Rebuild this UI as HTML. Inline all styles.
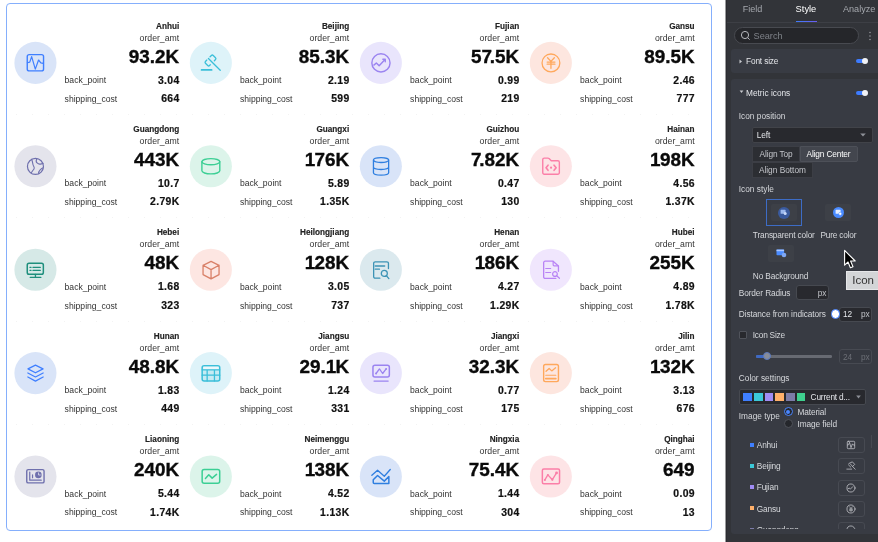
<!DOCTYPE html>
<html lang="en">
<head>
<meta charset="utf-8">
<title>Metric icons – style panel</title>
<style>
*{box-sizing:border-box;margin:0;padding:0}
html,body{width:878px;height:542px;overflow:hidden;background:#fff}
body{position:relative;font-family:"Liberation Sans",sans-serif}
.card{position:absolute;left:6px;top:3px;width:706px;height:528px;border:1px solid #85affc;border-radius:4px;background:#fff}
.sep{position:absolute;left:16px;width:680px;height:1px;background:repeating-linear-gradient(90deg,#f3f3f3 0 1px,transparent 1px 16px)}
.icons{position:absolute;left:0;top:0}
.t{position:absolute;white-space:nowrap;color:#1c1c1c}
.nm{-webkit-text-stroke:0.15px #222;font-weight:700;font-size:8.2px;line-height:10px;color:#222}
.od{font-size:8.7px;line-height:10px;color:#333}
.bg{font-weight:700;font-size:18.9px;line-height:20px;color:#0a0a0a;-webkit-text-stroke:0.35px #0a0a0a}
.n7{letter-spacing:-2.2px}
.n1{letter-spacing:-0.6px}
.lb{font-size:8.6px;line-height:10px;color:#333}
.vl{-webkit-text-stroke:0.2px #111;font-weight:700;font-size:10.4px;line-height:12px;color:#111;letter-spacing:0.35px;margin-right:-0.35px}
/* panel */
.panel{position:absolute;left:726px;top:0;width:152px;height:542px;background:#323439;box-shadow:-1px 0 0 #9a9b9d, inset 1px 0 0 #2b2c31}
.tabs{position:absolute;left:1px;top:0;width:151px;height:23px;border-bottom:1px solid #3d3f45}
.srch{display:none}
.uline{position:absolute;left:69.5px;top:20.6px;width:21px;height:1.4px;background:linear-gradient(90deg,#3e7bfa,#6a5cf0)}
.sbox{position:absolute;left:8px;top:27px;width:124.6px;height:17px;border-radius:9px;background:#25262a;border:1px solid #484a50}
.sec{position:absolute;left:5px;width:147px;background:#383b43;border-radius:3px 0 0 3px}
.p{position:absolute;white-space:nowrap;line-height:12px;font-family:"Liberation Sans",sans-serif}
.tog{position:absolute;width:11px;height:4.4px;border-radius:2.2px;background:#3d7bff}
.tog i{position:absolute;right:-1.2px;top:-0.7px;width:5.8px;height:5.8px;border-radius:50%;background:#f0f1f5}
.box{position:absolute;background:#28292e;border:1px solid #464950;border-radius:2px}
.btn{position:absolute;background:#2c2e33;border:1px solid #3c3e45}
.btn.on{background:#43464e;border-color:#4d5058;border-radius:0 2px 2px 0}
.thumb{position:absolute;width:26px;height:17.2px;border-radius:2px;background:#3d4047}
.sq{position:absolute;left:18.6px;width:4.1px;height:4.1px}
.ib{position:absolute;left:107.3px;width:26.4px;height:16px;border:1px solid #474a52;border-radius:3px}
.ib svg{position:absolute;left:6.2px;top:1px}
.lp{}
</style>
</head>
<body>
<div class="card"></div>
<div class="sep" style="top:114px"></div>
<div class="sep" style="top:217.4px"></div>
<div class="sep" style="top:320.8px"></div>
<div class="sep" style="top:424.2px"></div>
<svg class="icons" width="720" height="542" viewBox="0 0 720 542" fill="none" stroke="currentColor" stroke-linecap="round" stroke-linejoin="round">
<g transform="translate(35.45,62.90)" color="#3f7fff"><circle r="21.05" fill="#d9e4f8" stroke="none"/><rect x="-8.2" y="-8.3" width="16.3" height="16.3" rx="2" stroke-width="1.4"/><polyline points="-8,-0.1 -5.7,-0.8 -3.8,-6.3 -0.15,6.2 3.1,-2.9 5.4,-0.1 7.9,0.4" stroke-width="1.2"/></g>
<g transform="translate(210.85,62.90)" color="#3bbfd9"><circle r="21.05" fill="#def3f9" stroke="none"/><g transform="translate(-0.37,-2.4) rotate(-45)" stroke-width="1.3"><path d="M-2.3,-2.9H-4.2a1.3,1.3 0 0 0 -1.3,1.3V1.6a1.3,1.3 0 0 0 1.3,1.3H-3.2"/><path d="M2.3,-2.9H4.2a1.3,1.3 0 0 1 1.3,1.3V1.6a1.3,1.3 0 0 1 -1.3,1.3H2.6"/><line x1="0" y1="-2.9" x2="0" y2="13.8"/></g><line x1="-9.3" y1="7" x2="0.8" y2="7" stroke-width="1.7"/></g>
<g transform="translate(380.85,62.90)" color="#9b84f0"><circle r="21.05" fill="#e9e5fc" stroke="none"/><circle cx="0.1" cy="0" r="9.1" stroke-width="1.4"/><polyline points="-7,2.2 -4.5,0.1 -1.7,2.9 3.9,-3.1" stroke-width="1.4"/><polyline points="2,-3.6 4.4,-3.6 4.4,-1.2" stroke-width="1.4"/></g>
<g transform="translate(550.85,62.90)" color="#ffa85c"><circle r="21.05" fill="#fde6df" stroke="none"/><circle cx="0.1" cy="0" r="8.9" stroke-width="1.3"/><path d="M-3.3,-5.2L0.1,-1.5L3.5,-5.2M0.1,-1.5V5.4M-3.7,-0.8H4.1M-3.7,1.3H4.1" stroke-width="1.3"/></g>
<g transform="translate(35.45,166.30)" color="#6f70ad"><circle r="21.05" fill="#e4e4ec" stroke="none"/><circle cx="0" cy="0.15" r="8" stroke-width="1.2"/><path d="M-3.8,-7C-3,-5 -2.8,-3.5 -2.5,-1.8S-0.6,1 -1.35,2.35S-3,4.5 -4.3,6.8M1.4,-7.6C0.3,-5.6 0.5,-4.4 1.6,-3.4S3.3,-2.1 4.4,-2.2S6.6,-2.7 7.6,-2.7M7.9,1.5C6.5,1.9 5.6,2.6 4.7,3.5S2.8,5.6 3.3,7.2" stroke-width="1.1"/></g>
<g transform="translate(210.85,166.30)" color="#3ccf95"><circle r="21.05" fill="#dcf4ea" stroke="none"/><ellipse cx="0" cy="-4.6" rx="8.95" ry="3.1" stroke-width="1.4"/><path d="M-8.95,-4.6V4.5A8.95,3.1 0 0 0 8.95,4.5V-4.6" stroke-width="1.4"/></g>
<g transform="translate(380.85,166.30)" color="#2f7fe0"><circle r="21.05" fill="#d9e4f8" stroke="none"/><ellipse cx="0.2" cy="-6.2" rx="7.6" ry="2.4" stroke-width="1.3"/><path d="M-7.4,-6.2V6.5A7.6,2.4 0 0 0 7.8,6.5V-6.2M-7.4,0.8A7.6,2.4 0 0 0 7.8,0.8" stroke-width="1.3"/></g>
<g transform="translate(550.85,166.30)" color="#fb7fa8"><circle r="21.05" fill="#fde4e6" stroke="none"/><path d="M-8.1,-6.7a1.5,1.5 0 0 1 1.5,-1.5H-2.9a1.5,1.5 0 0 1 1.1,0.5L0.4,-5.5H7a1.5,1.5 0 0 1 1.5,1.5V6.4a1.5,1.5 0 0 1 -1.5,1.5H-6.6a1.5,1.5 0 0 1 -1.5,-1.5Z" stroke-width="1.4"/><path d="M-2.8,-1.15L-4.8,1.4L-2.8,4M3.2,-1.15L5.3,1.4L3.2,4" stroke-width="1.6"/><circle cx="0.2" cy="1.4" r="1.1" fill="currentColor" stroke="none"/></g>
<g transform="translate(35.45,269.70)" color="#1f8f7d"><circle r="21.05" fill="#d6e9e7" stroke="none"/><rect x="-8.2" y="-6.5" width="16.1" height="11.1" rx="1.8" stroke-width="1.5"/><path d="M0,4.8V7.5M-5.2,7.76H5.4" stroke-width="1.3"/><path d="M-5.5,-2.4H-4.4M-5.5,0.66H-4.4M-2.5,-2.4H4.9M-2.5,0.66H4.9" stroke-width="1.3"/></g>
<g transform="translate(210.85,269.70)" color="#d98068"><circle r="21.05" fill="#fde6e2" stroke="none"/><path d="M0.2,-8.4L8.2,-4.4V4.9L0.2,9.2L-7.8,4.9V-4.4ZM-7.8,-4.4L0.2,-0.1L8.2,-4.4M0.2,-0.1V9.2" stroke-width="1.3"/></g>
<g transform="translate(380.85,269.70)" color="#3d93b5"><circle r="21.05" fill="#dbe9ee" stroke="none"/><path d="M-1,8.5H-5.7a1.5,1.5 0 0 1 -1.5,-1.5V-6.4a1.5,1.5 0 0 1 1.5,-1.5H6.1a1.5,1.5 0 0 1 1.5,1.5V-1.2" stroke-width="1.3"/><path d="M-5.6,-3.76H3.8" stroke-width="1.5"/><path d="M-5.6,-0.5H-1.4" stroke-width="1.3"/><circle cx="3.45" cy="3.7" r="3" stroke-width="1.3"/><path d="M5.7,6.2L8,8.9" stroke-width="1.3"/></g>
<g transform="translate(550.85,269.70)" color="#b984f5"><circle r="21.05" fill="#f0e6fd" stroke="none"/><path d="M5,8.75H-5.7a1.5,1.5 0 0 1 -1.5,-1.5V-7.05a1.5,1.5 0 0 1 1.5,-1.5H2.2L7.6,-3.6V1.6" stroke-width="1.3"/><path d="M2.3,-8.3V-4.9a1,1 0 0 0 1,1H7.3" stroke-width="1.2"/><path d="M-5.1,-1.2H-0.2M-5.1,2.8H-0.2" stroke-width="1.2"/><circle cx="4.1" cy="4.35" r="2.35" stroke-width="1.2"/><path d="M5.8,6L8.6,8.6" stroke-width="1.2"/></g>
<g transform="translate(35.45,373.10)" color="#3f7fff"><circle r="21.05" fill="#d9e4f8" stroke="none"/><path d="M0,-8L7.6,-4.2L0,-0.3L-7.5,-4.2Z" stroke-width="1.2"/><path d="M-7.6,-0.1L0,3.9L7.7,-0.1M-7.6,3.9L0,8L7.7,3.9" stroke-width="1.2"/></g>
<g transform="translate(210.85,373.10)" color="#3bbfd9"><circle r="21.05" fill="#def3f9" stroke="none"/><rect x="-8.7" y="-7.4" width="17.6" height="15.2" rx="2" stroke-width="1.5" fill="#c6ebf3"/><rect x="-7.6" y="-6.4" width="15.4" height="2.4" fill="#ecf8fb" stroke="none"/><path d="M-8.7,-3.3H8.9M-8.7,2.1H8.9M-3.7,-3.3V7.8M3.6,-3.3V7.8" stroke-width="1.3"/></g>
<g transform="translate(380.85,373.10)" color="#9b84f0"><circle r="21.05" fill="#e9e5fc" stroke="none"/><rect x="-7.9" y="-7.8" width="16.4" height="11.7" rx="2" stroke-width="1.5"/><path d="M-6.8,8H7.3" stroke-width="1.3"/><polyline points="-4.8,0.4 -1.4,-4.2 1.8,0.4 5.3,-4.2" stroke-width="1.3"/><circle cx="-4.8" cy="0.4" r="0.9" fill="currentColor" stroke="none"/><circle cx="5.3" cy="-4.2" r="0.9" fill="currentColor" stroke="none"/></g>
<g transform="translate(550.85,373.10)" color="#ffa85c"><circle r="21.05" fill="#fde6df" stroke="none"/><rect x="-7.2" y="-8.6" width="14.8" height="17.1" rx="1.8" stroke-width="1.4"/><polyline points="-4.8,-1.9 -1.7,-4.65 0.9,-2.2 4.75,-5.3" stroke-width="1.3"/><path d="M-5.1,2.1H5" stroke-width="1.1"/><path d="M-5.1,5.5H5" stroke-width="1.7"/></g>
<g transform="translate(35.45,476.50)" color="#6f70ad"><circle r="21.05" fill="#e4e4ec" stroke="none"/><rect x="-8.7" y="-6.9" width="17.3" height="13.3" rx="1.5" stroke-width="1.4"/><path d="M-5.7,-4.4V3.7H5.8" stroke-width="1.2"/><path d="M-2.9,-1.6V1.15" stroke-width="1.2"/><circle cx="2.9" cy="-1.6" r="3.3" fill="currentColor" stroke="none"/><path d="M3.1,-3.6V-1.5H4.9" stroke="#d5d5e6" stroke-width="0.9"/></g>
<g transform="translate(210.85,476.50)" color="#3ccf95"><circle r="21.05" fill="#dcf4ea" stroke="none"/><rect x="-8.7" y="-7" width="17.55" height="13.65" rx="2" stroke-width="1.5"/><polyline points="-5.4,1.9 -2.1,-1.8 1.3,1.6 5.7,-2.1" stroke-width="1.5"/></g>
<g transform="translate(380.85,476.50)" color="#2f7fe0"><circle r="21.05" fill="#d9e4f8" stroke="none"/><polyline points="-9,-1.15 -3.3,-6.2 3.45,-0.2 9.4,-7" stroke-width="1.3"/><path d="M-7.6,3.3L-3.3,-1L3.45,4.6L8,0V6.9H-6.6a1,1 0 0 1 -1,-1Z" stroke-width="1.5"/></g>
<g transform="translate(550.85,476.50)" color="#fb7fa8"><circle r="21.05" fill="#fde4e6" stroke="none"/><rect x="-8.5" y="-7.5" width="17.2" height="14.8" rx="1.5" stroke-width="1.5"/><polyline points="-6,3.45 -3,-1.6 1.5,3.2 5.7,-3.6" stroke-width="1.3"/><circle cx="-6" cy="3.45" r="1" fill="currentColor" stroke="none"/><circle cx="-3" cy="-1.6" r="1" fill="currentColor" stroke="none"/><circle cx="1.5" cy="3.2" r="1.1" fill="currentColor" stroke="none"/><circle cx="5.7" cy="-3.6" r="1.4" fill="currentColor" stroke="none"/></g>
</svg>
<div class="t nm" style="right:698.80px;top:21.66px">Anhui</div>
<div class="t od" style="right:698.80px;top:32.69px">order_amt</div>
<div class="t bg" style="right:698.80px;top:46.65px">93.2K</div>
<div class="t lb" style="left:64.60px;top:75.02px">back_point</div>
<div class="t vl" style="right:698.80px;top:74.50px">3.04</div>
<div class="t lb" style="left:64.60px;top:93.77px">shipping_cost</div>
<div class="t vl" style="right:698.80px;top:92.95px">664</div>
<div class="t nm" style="right:528.80px;top:21.66px">Beijing</div>
<div class="t od" style="right:528.80px;top:32.69px">order_amt</div>
<div class="t bg" style="right:528.80px;top:46.65px">85.3K</div>
<div class="t lb" style="left:239.90px;top:75.02px">back_point</div>
<div class="t vl" style="right:528.80px;top:74.50px">2.19</div>
<div class="t lb" style="left:239.90px;top:93.77px">shipping_cost</div>
<div class="t vl" style="right:528.80px;top:92.95px">599</div>
<div class="t nm" style="right:358.80px;top:21.66px">Fujian</div>
<div class="t od" style="right:358.80px;top:32.69px">order_amt</div>
<div class="t bg" style="right:358.80px;top:46.65px">5<span class="n7">7</span>.5K</div>
<div class="t lb" style="left:410.10px;top:75.02px">back_point</div>
<div class="t vl" style="right:358.80px;top:74.50px">0.99</div>
<div class="t lb" style="left:410.10px;top:93.77px">shipping_cost</div>
<div class="t vl" style="right:358.80px;top:92.95px">219</div>
<div class="t nm" style="right:183.40px;top:21.66px">Gansu</div>
<div class="t od" style="right:183.40px;top:32.69px">order_amt</div>
<div class="t bg" style="right:183.40px;top:46.65px">89.5K</div>
<div class="t lb" style="left:580.10px;top:75.02px">back_point</div>
<div class="t vl" style="right:183.40px;top:74.50px">2.46</div>
<div class="t lb" style="left:580.10px;top:93.77px">shipping_cost</div>
<div class="t vl" style="right:183.40px;top:92.95px">777</div>
<div class="t nm" style="right:698.80px;top:125.06px">Guangdong</div>
<div class="t od" style="right:698.80px;top:136.09px">order_amt</div>
<div class="t bg" style="right:698.80px;top:150.05px">443K</div>
<div class="t lb" style="left:64.60px;top:178.42px">back_point</div>
<div class="t vl" style="right:698.80px;top:177.90px">10.7</div>
<div class="t lb" style="left:64.60px;top:197.17px">shipping_cost</div>
<div class="t vl" style="right:698.80px;top:196.35px">2.79K</div>
<div class="t nm" style="right:528.80px;top:125.06px">Guangxi</div>
<div class="t od" style="right:528.80px;top:136.09px">order_amt</div>
<div class="t bg" style="right:528.80px;top:150.05px"><span class="n1">1</span>76K</div>
<div class="t lb" style="left:239.90px;top:178.42px">back_point</div>
<div class="t vl" style="right:528.80px;top:177.90px">5.89</div>
<div class="t lb" style="left:239.90px;top:197.17px">shipping_cost</div>
<div class="t vl" style="right:528.80px;top:196.35px">1.35K</div>
<div class="t nm" style="right:358.80px;top:125.06px">Guizhou</div>
<div class="t od" style="right:358.80px;top:136.09px">order_amt</div>
<div class="t bg" style="right:358.80px;top:150.05px"><span class="n7">7</span>.82K</div>
<div class="t lb" style="left:410.10px;top:178.42px">back_point</div>
<div class="t vl" style="right:358.80px;top:177.90px">0.47</div>
<div class="t lb" style="left:410.10px;top:197.17px">shipping_cost</div>
<div class="t vl" style="right:358.80px;top:196.35px">130</div>
<div class="t nm" style="right:183.40px;top:125.06px">Hainan</div>
<div class="t od" style="right:183.40px;top:136.09px">order_amt</div>
<div class="t bg" style="right:183.40px;top:150.05px"><span class="n1">1</span>98K</div>
<div class="t lb" style="left:580.10px;top:178.42px">back_point</div>
<div class="t vl" style="right:183.40px;top:177.90px">4.56</div>
<div class="t lb" style="left:580.10px;top:197.17px">shipping_cost</div>
<div class="t vl" style="right:183.40px;top:196.35px">1.37K</div>
<div class="t nm" style="right:698.80px;top:228.46px">Hebei</div>
<div class="t od" style="right:698.80px;top:239.49px">order_amt</div>
<div class="t bg" style="right:698.80px;top:253.45px">48K</div>
<div class="t lb" style="left:64.60px;top:281.82px">back_point</div>
<div class="t vl" style="right:698.80px;top:281.30px">1.68</div>
<div class="t lb" style="left:64.60px;top:300.57px">shipping_cost</div>
<div class="t vl" style="right:698.80px;top:299.75px">323</div>
<div class="t nm" style="right:528.80px;top:228.46px">Heilongjiang</div>
<div class="t od" style="right:528.80px;top:239.49px">order_amt</div>
<div class="t bg" style="right:528.80px;top:253.45px"><span class="n1">1</span>28K</div>
<div class="t lb" style="left:239.90px;top:281.82px">back_point</div>
<div class="t vl" style="right:528.80px;top:281.30px">3.05</div>
<div class="t lb" style="left:239.90px;top:300.57px">shipping_cost</div>
<div class="t vl" style="right:528.80px;top:299.75px">737</div>
<div class="t nm" style="right:358.80px;top:228.46px">Henan</div>
<div class="t od" style="right:358.80px;top:239.49px">order_amt</div>
<div class="t bg" style="right:358.80px;top:253.45px"><span class="n1">1</span>86K</div>
<div class="t lb" style="left:410.10px;top:281.82px">back_point</div>
<div class="t vl" style="right:358.80px;top:281.30px">4.27</div>
<div class="t lb" style="left:410.10px;top:300.57px">shipping_cost</div>
<div class="t vl" style="right:358.80px;top:299.75px">1.29K</div>
<div class="t nm" style="right:183.40px;top:228.46px">Hubei</div>
<div class="t od" style="right:183.40px;top:239.49px">order_amt</div>
<div class="t bg" style="right:183.40px;top:253.45px">255K</div>
<div class="t lb" style="left:580.10px;top:281.82px">back_point</div>
<div class="t vl" style="right:183.40px;top:281.30px">4.89</div>
<div class="t lb" style="left:580.10px;top:300.57px">shipping_cost</div>
<div class="t vl" style="right:183.40px;top:299.75px">1.78K</div>
<div class="t nm" style="right:698.80px;top:331.86px">Hunan</div>
<div class="t od" style="right:698.80px;top:342.89px">order_amt</div>
<div class="t bg" style="right:698.80px;top:356.85px">48.8K</div>
<div class="t lb" style="left:64.60px;top:385.22px">back_point</div>
<div class="t vl" style="right:698.80px;top:384.70px">1.83</div>
<div class="t lb" style="left:64.60px;top:403.97px">shipping_cost</div>
<div class="t vl" style="right:698.80px;top:403.15px">449</div>
<div class="t nm" style="right:528.80px;top:331.86px">Jiangsu</div>
<div class="t od" style="right:528.80px;top:342.89px">order_amt</div>
<div class="t bg" style="right:528.80px;top:356.85px">29.<span class="n1">1</span>K</div>
<div class="t lb" style="left:239.90px;top:385.22px">back_point</div>
<div class="t vl" style="right:528.80px;top:384.70px">1.24</div>
<div class="t lb" style="left:239.90px;top:403.97px">shipping_cost</div>
<div class="t vl" style="right:528.80px;top:403.15px">331</div>
<div class="t nm" style="right:358.80px;top:331.86px">Jiangxi</div>
<div class="t od" style="right:358.80px;top:342.89px">order_amt</div>
<div class="t bg" style="right:358.80px;top:356.85px">32.3K</div>
<div class="t lb" style="left:410.10px;top:385.22px">back_point</div>
<div class="t vl" style="right:358.80px;top:384.70px">0.77</div>
<div class="t lb" style="left:410.10px;top:403.97px">shipping_cost</div>
<div class="t vl" style="right:358.80px;top:403.15px">175</div>
<div class="t nm" style="right:183.40px;top:331.86px">Jilin</div>
<div class="t od" style="right:183.40px;top:342.89px">order_amt</div>
<div class="t bg" style="right:183.40px;top:356.85px"><span class="n1">1</span>32K</div>
<div class="t lb" style="left:580.10px;top:385.22px">back_point</div>
<div class="t vl" style="right:183.40px;top:384.70px">3.13</div>
<div class="t lb" style="left:580.10px;top:403.97px">shipping_cost</div>
<div class="t vl" style="right:183.40px;top:403.15px">676</div>
<div class="t nm" style="right:698.80px;top:435.26px">Liaoning</div>
<div class="t od" style="right:698.80px;top:446.29px">order_amt</div>
<div class="t bg" style="right:698.80px;top:460.25px">240K</div>
<div class="t lb" style="left:64.60px;top:488.62px">back_point</div>
<div class="t vl" style="right:698.80px;top:488.10px">5.44</div>
<div class="t lb" style="left:64.60px;top:507.37px">shipping_cost</div>
<div class="t vl" style="right:698.80px;top:506.55px">1.74K</div>
<div class="t nm" style="right:528.80px;top:435.26px">Neimenggu</div>
<div class="t od" style="right:528.80px;top:446.29px">order_amt</div>
<div class="t bg" style="right:528.80px;top:460.25px"><span class="n1">1</span>38K</div>
<div class="t lb" style="left:239.90px;top:488.62px">back_point</div>
<div class="t vl" style="right:528.80px;top:488.10px">4.52</div>
<div class="t lb" style="left:239.90px;top:507.37px">shipping_cost</div>
<div class="t vl" style="right:528.80px;top:506.55px">1.13K</div>
<div class="t nm" style="right:358.80px;top:435.26px">Ningxia</div>
<div class="t od" style="right:358.80px;top:446.29px">order_amt</div>
<div class="t bg" style="right:358.80px;top:460.25px">75.4K</div>
<div class="t lb" style="left:410.10px;top:488.62px">back_point</div>
<div class="t vl" style="right:358.80px;top:488.10px">1.44</div>
<div class="t lb" style="left:410.10px;top:507.37px">shipping_cost</div>
<div class="t vl" style="right:358.80px;top:506.55px">304</div>
<div class="t nm" style="right:183.40px;top:435.26px">Qinghai</div>
<div class="t od" style="right:183.40px;top:446.29px">order_amt</div>
<div class="t bg" style="right:183.40px;top:460.25px">649</div>
<div class="t lb" style="left:580.10px;top:488.62px">back_point</div>
<div class="t vl" style="right:183.40px;top:488.10px">0.09</div>
<div class="t lb" style="left:580.10px;top:507.37px">shipping_cost</div>
<div class="t vl" style="right:183.40px;top:506.55px">13</div>

<div class="panel">
  <div class="tabs"></div>
  <div class="uline"></div>
  <div class="srch"></div>
  <div class="sbox"></div>
  <svg style="position:absolute;left:14px;top:30px" width="11" height="11" viewBox="0 0 11 11" fill="none" stroke="#b6b8bd" stroke-width="1"><circle cx="5" cy="5" r="3.6"/><path d="M7.7,7.7L9.6,9.6"/></svg>
  <svg style="position:absolute;left:142px;top:31px" width="4" height="10" viewBox="0 0 4 10" fill="#9a9ca2"><circle cx="2" cy="1.6" r="0.75"/><circle cx="2" cy="5" r="0.75"/><circle cx="2" cy="8.4" r="0.75"/></svg>

  <div class="sec" style="top:49px;height:23.6px"></div>
  <div class="sec" style="top:79px;height:454.6px"></div>
  <!-- carets -->
  <svg style="position:absolute;left:12.8px;top:58.6px" width="4" height="5" viewBox="0 0 4 5"><path d="M0.5,0.5L3,2.5L0.5,4.5Z" fill="#c9cbd0"/></svg>
  <svg style="position:absolute;left:12.6px;top:90.3px" width="5" height="4" viewBox="0 0 5 4"><path d="M0.6,0.6H4.4L2.5,2.9Z" fill="#c9cbd0"/></svg>
  <div class="tog" style="left:130px;top:58.9px"><i></i></div>
  <div class="tog" style="left:130px;top:90.9px"><i></i></div>

  <!-- select Left -->
  <div class="box" style="left:26.4px;top:127px;width:120.2px;height:15.6px;border-color:#414349"></div>
  <svg style="position:absolute;left:134px;top:133.3px" width="6" height="4" viewBox="0 0 6 4"><path d="M0.2,0.4H5.8L3,3.6Z" fill="#8d9097"/></svg>
  <!-- align buttons -->
  <div class="btn" style="left:26.4px;top:146px;width:47.6px;height:15.6px"></div>
  <div class="btn on" style="left:73.6px;top:146px;width:58px;height:15.6px"></div>
  <div class="btn" style="left:26.4px;top:162.4px;width:60.4px;height:15.2px"></div>

  <!-- icon style thumbs -->
  <div style="position:absolute;left:40px;top:198.8px;width:36.2px;height:27px;border:1px solid #3d6cc6"></div>
  <div class="thumb" style="left:45px;top:203.8px"></div>
  <div style="position:absolute;left:51.8px;top:206.5px;width:12px;height:12px;border-radius:50%;background:#3a5a9e"></div>
  <svg style="position:absolute;left:54.3px;top:209.2px" width="7" height="7" viewBox="0 0 7 7"><rect x="0.6" y="0.8" width="5" height="4" rx="0.6" fill="#9cb8ee"/><circle cx="5.2" cy="4.6" r="1.5" fill="#c8d8f8"/></svg>
  <div class="thumb" style="left:98.8px;top:203.8px"></div>
  <div style="position:absolute;left:106.6px;top:206.9px;width:11.2px;height:11.2px;border-radius:50%;background:#4a8bff"></div>
  <svg style="position:absolute;left:108.8px;top:209.2px" width="7" height="7" viewBox="0 0 7 7"><rect x="0.6" y="0.8" width="5" height="4" rx="0.6" fill="#e6eeff"/><circle cx="5.2" cy="4.8" r="1.5" fill="#fff" stroke="#4a8bff" stroke-width="0.5"/></svg>
  <div class="thumb" style="left:42px;top:245px;height:16.6px"></div>
  <svg style="position:absolute;left:49.5px;top:249px" width="11" height="9" viewBox="0 0 11 9"><rect x="0.5" y="0.6" width="7.6" height="5.6" rx="0.8" fill="#4a8bff"/><rect x="0.5" y="0.6" width="7.6" height="1.6" fill="#a9c6ff"/><circle cx="8" cy="6" r="2.3" fill="#7fa8f5"/></svg>

  <!-- border radius input -->
  <div class="box" style="left:70px;top:284.9px;width:32.6px;height:15.6px;border-radius:3px"></div>
  <!-- distance input -->
  <div class="box" style="left:113.2px;top:306.6px;width:33px;height:15px;border-radius:3px"></div>
  <div style="position:absolute;left:105.2px;top:309.4px;width:9.2px;height:9.2px;border-radius:50%;background:#fff;border:1.3px solid #3d7bff"></div>
  <!-- checkbox -->
  <div class="box" style="left:13.2px;top:331.4px;width:7.5px;height:7.4px;border-radius:1px;border-color:#50535b"></div>
  <!-- slider -->
  <div style="position:absolute;left:30.4px;top:355.1px;width:76px;height:2.6px;border-radius:1.3px;background:#676a72"></div>
  <div style="position:absolute;left:30.4px;top:355.1px;width:9px;height:2.6px;border-radius:1.3px;background:#3e69c4"></div>
  <div style="position:absolute;left:37px;top:352.4px;width:8px;height:8px;border-radius:50%;background:#878c99;border:1px solid #5878c0"></div>
  <div class="box" style="left:113.2px;top:348.9px;width:33px;height:15px;border-radius:3px;background:#363941;border-color:#474a52"></div>

  <!-- palette -->
  <div class="box" style="left:13.2px;top:388.7px;width:126.5px;height:16.6px"></div>
  <div style="position:absolute;left:17.2px;top:392.9px;width:8.7px;height:8.6px;background:#3f7fff"></div>
  <div style="position:absolute;left:28px;top:392.9px;width:8.6px;height:8.6px;background:#3bc8d8"></div>
  <div style="position:absolute;left:38.6px;top:392.9px;width:8.7px;height:8.6px;background:#a08cf5"></div>
  <div style="position:absolute;left:49.3px;top:392.9px;width:8.6px;height:8.6px;background:#ffb06a"></div>
  <div style="position:absolute;left:60.3px;top:392.9px;width:8.4px;height:8.6px;background:#7c7ca8"></div>
  <div style="position:absolute;left:70.6px;top:392.9px;width:8.6px;height:8.6px;background:#3ecf8e"></div>
  <svg style="position:absolute;left:129.8px;top:395.3px" width="5" height="4" viewBox="0 0 5 4"><path d="M0.2,0.4H4.8L2.5,3.4Z" fill="#8d9097"/></svg>

  <!-- radios -->
  <div style="position:absolute;left:57.8px;top:407.2px;width:9px;height:9px;border-radius:50%;border:1px solid #4a86ff;background:#25272c"></div>
  <div style="position:absolute;left:60.1px;top:409.5px;width:4.4px;height:4.4px;border-radius:50%;background:#4a86ff"></div>
  <div style="position:absolute;left:57.8px;top:419.3px;width:9px;height:9px;border-radius:50%;border:1px solid #50535b;background:#25272c"></div>

  <!-- list (clipped) -->
  <div style="position:absolute;left:5px;top:434px;width:147px;height:95.3px;overflow:hidden">
<div class="sq" style="top:8.60px;background:#3f7fff"></div>
<div class="p lp" style="left:25.80px;top:4.80px;font-size:8.3px;letter-spacing:-0.18px;color:#d6d8dc">Anhui</div>
<div class="ib" style="top:3.00px"><svg viewBox="-5.2 -5.2 10.4 10.4" width="12" height="12" fill="none" stroke="#c9cbd0" stroke-width="0.65" stroke-linecap="round" stroke-linejoin="round"><rect x="-3.2" y="-3.2" width="6.4" height="6.4" rx="0.8"/><polyline points="-3,0 -2,-0.3 -1.3,-2.3 0,2.3 1.2,-1 2.1,0 3,0.1"/></svg></div>
<div class="sq" style="top:29.85px;background:#3bc8d8"></div>
<div class="p lp" style="left:25.80px;top:26.05px;font-size:8.3px;letter-spacing:-0.18px;color:#d6d8dc">Beijing</div>
<div class="ib" style="top:24.00px"><svg viewBox="-5.2 -5.2 10.4 10.4" width="12" height="12" fill="none" stroke="#c9cbd0" stroke-width="0.65" stroke-linecap="round" stroke-linejoin="round"><path d="M-1.8,-2.2L1.2,-3.6L3.2,-1.4L1.6,0.2M-0.6,-1.8L3.6,2.8M-3.6,2.7H0.6M-2.2,-1L-0.2,1"/></svg></div>
<div class="sq" style="top:51.10px;background:#a08cf5"></div>
<div class="p lp" style="left:25.80px;top:47.30px;font-size:8.3px;letter-spacing:-0.18px;color:#d6d8dc">Fujian</div>
<div class="ib" style="top:46.00px"><svg viewBox="-5.2 -5.2 10.4 10.4" width="12" height="12" fill="none" stroke="#c9cbd0" stroke-width="0.65" stroke-linecap="round" stroke-linejoin="round"><circle r="3.5"/><polyline points="-2.6,0.8 -1.6,0 -0.6,1 1.6,-1.2"/></svg></div>
<div class="sq" style="top:72.35px;background:#ffb06a"></div>
<div class="p lp" style="left:25.80px;top:68.55px;font-size:8.3px;letter-spacing:-0.18px;color:#d6d8dc">Gansu</div>
<div class="ib" style="top:67.00px"><svg viewBox="-5.2 -5.2 10.4 10.4" width="12" height="12" fill="none" stroke="#c9cbd0" stroke-width="0.65" stroke-linecap="round" stroke-linejoin="round"><circle r="3.5"/><path d="M-1.3,-2L0,-0.5L1.3,-2M0,-0.5V2.2M-1.4,0.1H1.4M-1.4,1.1H1.4" stroke-width="0.55"/></svg></div>
<div class="sq" style="top:93.60px;background:#7c7ca8"></div>
<div class="p lp" style="left:25.80px;top:89.80px;font-size:8.3px;letter-spacing:-0.18px;color:#d6d8dc">Guangdong</div>
<div class="ib" style="top:88.00px"><svg viewBox="-5.2 -5.2 10.4 10.4" width="12" height="12" fill="none" stroke="#c9cbd0" stroke-width="0.65" stroke-linecap="round" stroke-linejoin="round"><circle r="3.5"/></svg></div>
  </div>
  <div style="position:absolute;left:145.4px;top:434.9px;width:1.1px;height:13.6px;background:#464951"></div>

<div class="p " style="left:16.70px;top:3.00px;font-size:9.0px;color:#a4a7ad;">Field</div>
<div class="p " style="left:69.60px;top:3.00px;font-size:9.3px;color:#ffffff;">Style</div>
<div class="p " style="left:117.00px;top:3.00px;font-size:9.1px;color:#a4a7ad;">Analyze</div>
<div class="p " style="left:27.50px;top:29.60px;font-size:9.2px;color:#7f8289;">Search</div>
<div class="p " style="left:20.00px;top:55.00px;font-size:8.3px;color:#e4e6ea;letter-spacing:-0.15px;">Font size</div>
<div class="p " style="left:20.00px;top:87.00px;font-size:8.3px;color:#e4e6ea;">Metric icons</div>
<div class="p " style="left:12.80px;top:110.20px;font-size:8.3px;color:#d6d8dc;">Icon position</div>
<div class="p " style="left:30.80px;top:129.20px;font-size:8.3px;color:#e4e6ea;letter-spacing:-0.15px;">Left</div>
<div class="p " style="left:33.50px;top:148.20px;font-size:8.3px;color:#c4c6cb;letter-spacing:-0.1px;">Align Top</div>
<div class="p " style="left:80.60px;top:148.20px;font-size:8.3px;color:#ffffff;letter-spacing:-0.155px;">Align Center</div>
<div class="p " style="left:32.90px;top:164.30px;font-size:8.3px;color:#c4c6cb;">Align Bottom</div>
<div class="p " style="left:12.80px;top:182.70px;font-size:8.3px;color:#d6d8dc;">Icon style</div>
<div class="p " style="left:26.80px;top:228.90px;font-size:8.3px;color:#d6d8dc;letter-spacing:-0.165px;">Transparent color</div>
<div class="p " style="left:94.40px;top:228.90px;font-size:8.3px;color:#d6d8dc;letter-spacing:-0.19px;">Pure color</div>
<div class="p " style="left:26.80px;top:270.30px;font-size:8.3px;color:#d6d8dc;letter-spacing:-0.14px;">No Background</div>
<div class="p " style="left:12.80px;top:287.20px;font-size:8.3px;color:#d6d8dc;letter-spacing:-0.12px;">Border Radius</div>
<div class="p " style="left:91.70px;top:287.00px;font-size:8.3px;color:#c0c2c7;">px</div>
<div class="p " style="left:12.80px;top:308.10px;font-size:8.3px;color:#d6d8dc;letter-spacing:-0.083px;">Distance from indicators</div>
<div class="p " style="left:117.00px;top:308.20px;font-size:8.3px;color:#e4e6ea;">12</div>
<div class="p " style="left:135.00px;top:308.20px;font-size:8.3px;color:#c0c2c7;">px</div>
<div class="p " style="left:26.80px;top:329.00px;font-size:8.3px;color:#d6d8dc;letter-spacing:-0.235px;">Icon Size</div>
<div class="p " style="left:117.00px;top:350.60px;font-size:8.3px;color:#6c6f76;">24</div>
<div class="p " style="left:135.00px;top:350.60px;font-size:8.3px;color:#6c6f76;">px</div>
<div class="p " style="left:12.80px;top:372.00px;font-size:8.3px;color:#d6d8dc;">Color settings</div>
<div class="p " style="left:84.60px;top:391.20px;font-size:8.3px;color:#e4e6ea;letter-spacing:-0.19px;">Current d...</div>
<div class="p " style="left:12.80px;top:410.30px;font-size:8.3px;color:#d6d8dc;">Image type</div>
<div class="p " style="left:71.60px;top:405.90px;font-size:8.3px;color:#d6d8dc;letter-spacing:-0.14px;">Material</div>
<div class="p " style="left:71.60px;top:418.00px;font-size:8.3px;color:#d6d8dc;letter-spacing:-0.11px;">Image field</div>

  <!-- tooltip -->
  <div style="position:absolute;left:119.7px;top:271.2px;width:33px;height:18.8px;background:#d3d5d7;border:1px solid #e6e7e9"></div>
  <div class="p" style="left:126.2px;top:273.8px;font-size:11.5px;color:#333">Icon</div>
  <!-- cursor -->
  <svg style="position:absolute;left:116.5px;top:249.2px" width="14" height="21" viewBox="0 0 14 21"><path d="M1.6,1.4V16.2L5,13L7.4,18.8L10,17.7L7.6,12H12.2Z" fill="#000" stroke="#fff" stroke-width="1.1" stroke-linejoin="round"/></svg>
</div>
</body>
</html>
